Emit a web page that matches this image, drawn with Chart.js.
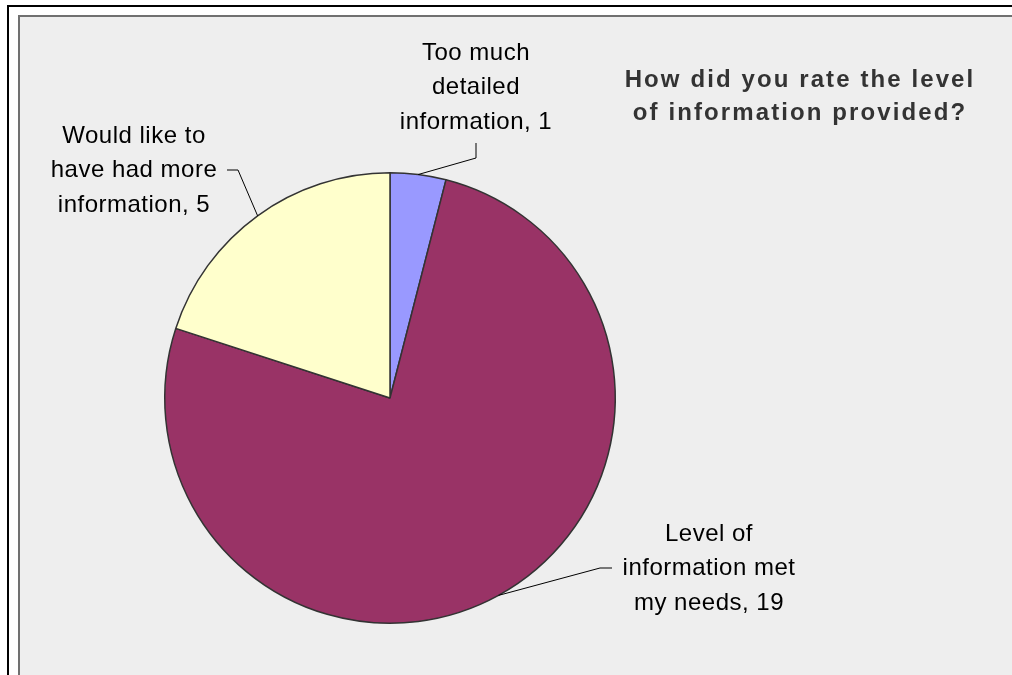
<!DOCTYPE html>
<html lang="en">
<head>
  <meta charset="UTF-8">
  <title>Level of information provided</title>
  <script src="https://cdn.jsdelivr.net/npm/chart.js"></script>
  <style>
    body {
      margin: 0;
      width: 1012px;
      height: 675px;
      overflow: hidden;
      background: #ffffff;
      position: relative;
    }
    .frame {
      position: absolute;
      left: 7px;
      top: 5px;
      width: 1100px;
      height: 800px;
      border: 2px solid #000;
    }
    .plot {
      position: absolute;
      left: 18px;
      top: 15px;
      width: 1100px;
      height: 800px;
      border: 2px solid #707070;
      background: #eeeeee;
    }
    canvas {
      position: absolute;
      left: 0;
      top: 0;
    }
  </style>
</head>
<body>
  <div class="frame"></div>
  <div class="plot"></div>
  <canvas id="pie" width="1012" height="675"></canvas>

<script>
  // answers and counts
  const categories = [
    ['Too much', 'detailed', 'information'],
    ['Level of', 'information met', 'my needs'],
    ['Would like to', 'have had more', 'information']
  ];
  const counts = [1, 19, 5];
  const colours = ['#9999ff', '#993366', '#ffffcc'];
  const titleLines = ['How did you rate the level', 'of information provided?'];

  // where each label sits: text centre, first line y, elbow of the leader line and where it meets the text
  const labelSpots = [
    { x: 476, y: 53, elbow: [476, 158], end: [476, 143] },
    { x: 709, y: 534, elbow: [600, 568], end: [612, 568] },
    { x: 134, y: 136, elbow: [238, 170], end: [227, 170] }
  ];

  const pieLabels = {
    id: 'pieLabels',
    afterDraw(chart) {
      const ctx = chart.ctx;
      const arcs = chart.getDatasetMeta(0).data;
      ctx.save();
      ctx.textAlign = 'center';
      ctx.textBaseline = 'middle';

      arcs.forEach((arc, i) => {
        const spot = labelSpots[i];
        const mid = (arc.startAngle + arc.endAngle) / 2;
        const px = arc.x + Math.cos(mid) * arc.outerRadius;
        const py = arc.y + Math.sin(mid) * arc.outerRadius;

        // leader line
        ctx.strokeStyle = '#000';
        ctx.lineWidth = 1;
        ctx.beginPath();
        ctx.moveTo(px, py);
        ctx.lineTo(spot.elbow[0], spot.elbow[1]);
        ctx.lineTo(spot.end[0], spot.end[1]);
        ctx.stroke();

        // label text, value appended to the last line
        const lines = categories[i].slice();
        lines[lines.length - 1] += ', ' + counts[i];
        ctx.fillStyle = '#000';
        ctx.font = '24px "Liberation Sans", Arial, sans-serif';
        ctx.letterSpacing = '0.5px';
        lines.forEach((t, k) => ctx.fillText(t, spot.x, spot.y + k * 34.5));
      });

      // chart title
      ctx.fillStyle = '#333333';
      ctx.font = 'bold 24px "Liberation Sans", Arial, sans-serif';
      ctx.letterSpacing = '2.1px';
      titleLines.forEach((t, k) => ctx.fillText(t, 800, 80 + k * 33));
      ctx.restore();
    }
  };

  new Chart(document.getElementById('pie'), {
    type: 'pie',
    data: {
      labels: categories.map(c => c.join(' ')),
      datasets: [{
        data: counts,
        backgroundColor: colours,
        borderColor: '#333333',
        borderWidth: 1.5,
        hoverOffset: 0
      }]
    },
    options: {
      responsive: false,
      animation: false,
      events: [],
      layout: { padding: { left: 164, top: 172, right: 396, bottom: 51 } },
      plugins: {
        legend: { display: false },
        tooltip: { enabled: false },
        title: { display: false }
      }
    },
    plugins: [pieLabels]
  });
</script>
</body>
</html>
